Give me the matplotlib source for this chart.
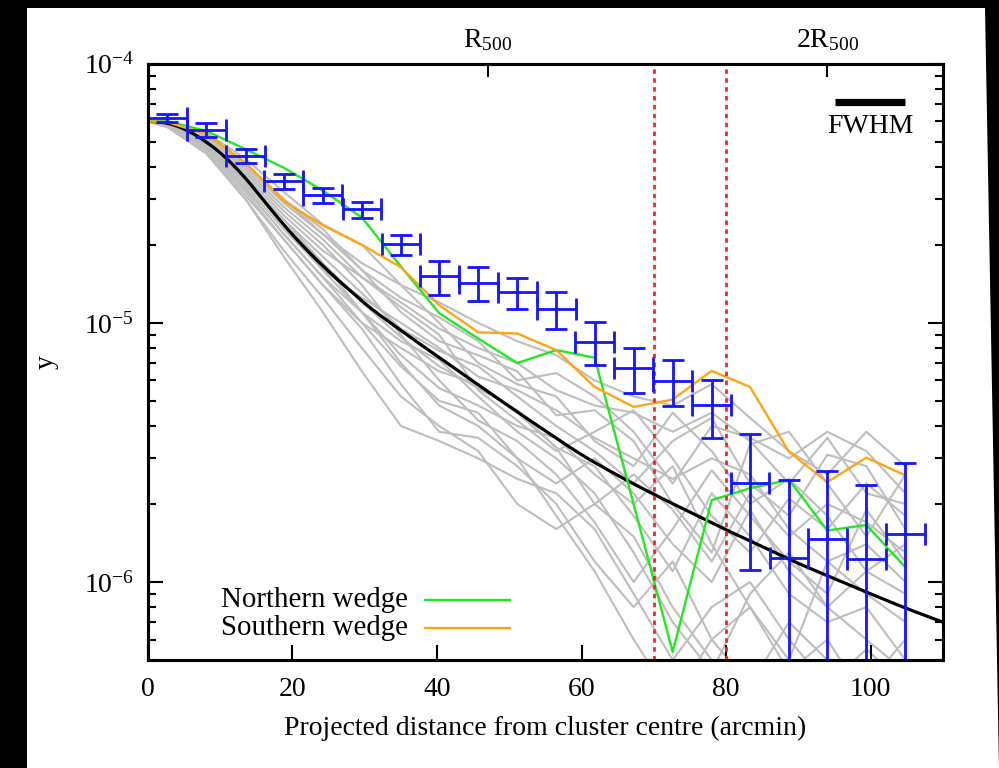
import numpy as np
import matplotlib
matplotlib.use('Agg')
import matplotlib.pyplot as plt
from matplotlib.patches import Polygon

plt.rcParams['font.family'] = ['Liberation Serif', 'DejaVu Serif']
plt.rcParams['mathtext.fontset'] = 'custom'
plt.rcParams['mathtext.rm'] = 'Liberation Serif'
plt.rcParams['mathtext.it'] = 'Liberation Serif:italic'
plt.rcParams['mathtext.bf'] = 'Liberation Serif:bold'

# radial bins (arcmin) used for the wedge / sector profiles
prof_x = [0, 2.7, 8.1, 13.5, 18.8, 24.2, 29.6, 35.0, 40.3, 45.7, 51.1,
          56.5, 61.8, 67.2, 72.6, 78.0, 83.3, 88.7, 94.0, 99.4, 104.8]

# measured profile (units of 1e-6)
data_x = prof_x[1:]
data_xerr = 2.68
data_y = [62, 55.5, 44.1, 35.2, 31.1, 27.4, 20.1, 15.1, 14.3, 13.1,
          11.3, 8.45, 6.67, 5.96, 4.81, 2.41, 1.24, 1.46, 1.23, 1.53]
data_yerr = [2.2, 3.5, 2.8, 2.2, 2.0, 2.0, 1.8, 2.3, 2.2, 1.8,
             1.8, 1.6, 1.3, 1.2, 1.2, 1.3, 1.23, 1.23, 1.13, 1.36]

# wedges (units of 1e-6)
north = [60, 60, 55, 46.8, 39.7, 32.4, 25.5, 16.5, 10.9, 8.7, 7.0,
         7.85, 7.34, 2.0, 0.537, 2.07, 2.3, 2.48, 1.58, 1.66, 1.14]
south = [60, 59.5, 53.5, 41.5, 29.5, 23.8, 20.0, 16.4, 11.7, 9.2, 9.1,
         7.85, 5.66, 4.74, 5.06, 6.53, 5.66, 3.18, 2.43, 3.02, 2.58]

# other sectors (units of 1e-6)
sectors = [
    [60, 59, 52, 40, 29, 22, 17, 14, 12, 10, 8.5, 7.5, 6.0, 5.2, 4.8, 5.8, 4.3, 3.2, 2.6, 3.8, 2.8],
    [60, 58, 50, 37, 26, 19, 15, 12, 9.5, 8.0, 7.0, 5.5, 4.8, 4.5, 3.8, 4.5, 3.5, 2.4, 3.6, 2.2, 2.0],
    [60, 58, 48, 34, 23, 16, 12.5, 10, 8.0, 6.2, 5.5, 4.6, 3.6, 3.0, 2.5, 3.0, 2.6, 1.6, 1.2, 1.4, 1.0],
    [60, 57, 47, 33, 22, 15, 10, 8.0, 6.5, 5.8, 4.5, 3.3, 2.8, 1.8, 1.1, 2.2, 1.5, 0.9, 0.7, 0.8, 0.5],
    [60, 57, 45, 30, 18, 11, 6.5, 4.0, 3.5, 3.0, 2.5, 2.2, 1.6, 0.9, 0.5, 0.8, 1.0, 0.6, 0.4, 0.55, 0.4],
    [60, 58, 49, 35, 24, 17, 11, 8.5, 7.2, 5.2, 3.8, 3.0, 2.2, 1.3, 0.7, 0.45, 0.9, 1.3, 0.8, 0.6, 0.45],
    [60, 59, 51, 38, 27, 20, 14, 9.0, 6.0, 4.2, 3.5, 2.6, 1.7, 1.0, 1.6, 2.7, 1.8, 1.2, 0.9, 1.9, 1.2],
    [60, 58, 47, 32, 21, 14, 9.5, 5.8, 3.8, 3.6, 2.8, 2.0, 1.2, 0.8, 1.2, 0.6, 0.4, 0.7, 0.5, 0.4, 0.6],
    [60, 59, 53, 41, 30, 23, 16, 11, 8.5, 7.5, 6.5, 4.4, 4.6, 3.5, 2.0, 1.3, 3.4, 3.8, 2.4, 1.5, 2.6],
    [60, 58, 50, 36, 25, 18, 13, 9.5, 7.8, 6.8, 5.2, 4.0, 3.2, 2.4, 3.5, 4.3, 2.4, 1.8, 3.1, 2.8, 1.6],
    [60, 57, 45, 30, 19, 12.5, 8.0, 5.2, 4.0, 3.2, 2.0, 1.6, 2.0, 1.5, 0.8, 0.5, 0.3, 0.5, 1.2, 0.9, 0.7],
    [60, 59, 54, 43, 32, 24, 20, 14, 10, 7.0, 5.8, 5.2, 3.5, 2.8, 4.5, 3.2, 2.0, 2.5, 1.8, 1.1, 1.4],
    [60, 58, 49, 35, 24, 16, 11, 7.5, 5.6, 4.8, 4.0, 3.6, 2.6, 2.0, 2.8, 1.4, 0.8, 0.45, 0.6, 0.35, 0.3],
    [60, 59, 52, 39, 28, 21, 15, 11.5, 9.0, 5.5, 4.2, 3.2, 3.8, 4.6, 3.0, 1.8, 1.3, 2.1, 1.6, 2.4, 1.8],
    [60, 58, 48, 33, 22, 15, 11, 7.0, 4.8, 4.0, 3.0, 2.4, 3.0, 2.2, 1.4, 1.0, 1.9, 1.1, 0.8, 1.1, 0.9],
    [60, 57, 46, 31, 21, 14, 10, 6.8, 5.0, 4.5, 3.0, 1.8, 1.1, 0.6, 0.35, 0.6, 0.8, 0.5, 0.3, 0.5, 0.3],
    [60, 59, 53, 41, 30, 22, 16, 12.5, 10.5, 8.5, 6.0, 6.4, 5.2, 3.8, 2.4, 4.0, 3.6, 3.0, 3.8, 3.2, 2.2],
    [60, 58, 50, 36, 25, 17, 12, 8.8, 6.8, 5.6, 4.6, 3.3, 2.0, 2.6, 1.9, 1.2, 2.2, 1.5, 2.0, 1.7, 1.3],
]

# model profile (units of 1e-6)
model_x = [0, 2, 4, 6, 8, 10, 12, 14, 16, 18, 20, 22, 24, 26, 28, 30, 35,
           40, 45, 50, 55, 60, 65, 70, 75, 80, 85, 90, 95, 100, 105, 110]
model_y = [60, 59.4, 57.5, 54.2, 50.0, 45.3, 40.1, 34.8, 29.7, 25.4, 21.9,
           19.1, 16.8, 14.9, 13.3, 11.9, 9.35, 7.45, 5.95, 4.76, 3.83, 3.1,
           2.58, 2.18, 1.86, 1.59, 1.37, 1.18, 1.03, 0.9, 0.79, 0.70]

r500 = 47.0
region_lines = [70, 80]
fwhm = [95.1, 104.7]

scale = 1e-6
fs = 20


def smooth_log(xs, ys, n=12):
    """Hermite curve through the read points, done in log space"""
    xs = np.asarray(xs, float)
    ly = np.log10(ys)
    m = np.gradient(ly, xs)
    out_x, out_y = [], []
    for i in range(len(xs) - 1):
        h = xs[i + 1] - xs[i]
        t = np.linspace(0, 1, n, endpoint=False)
        h00 = 2 * t**3 - 3 * t**2 + 1
        h10 = t**3 - 2 * t**2 + t
        h01 = -2 * t**3 + 3 * t**2
        h11 = t**3 - t**2
        out_x.extend(xs[i] + t * h)
        out_y.extend(h00 * ly[i] + h10 * h * m[i] + h01 * ly[i + 1] + h11 * h * m[i + 1])
    out_x.append(xs[-1])
    out_y.append(ly[-1])
    return np.array(out_x), 10 ** np.array(out_y)


fig = plt.figure(figsize=(9.99, 7.68), dpi=100, facecolor='black')
page = Polygon([(27 / 999, 1 - 8 / 768), (985 / 999, 1 - 8 / 768), (1, 0), (27 / 999, 0)],
               closed=True, transform=fig.transFigure, facecolor='white',
               edgecolor='none', zorder=-10)
fig.patches.append(page)

ax = fig.add_axes([0.1481, 0.1406, 0.7958, 0.7764])
ax.set_facecolor('white')

for s in sectors:
    ax.plot(prof_x, np.array(s) * scale, color='#bebebe', lw=1.5, zorder=1)

mx, my = smooth_log(model_x, np.array(model_y) * scale)
ax.plot(mx, my, color='black', lw=2.3, zorder=2)
ax.plot(prof_x, np.array(north) * scale, color='#22e822', lw=1.7, zorder=3)
ax.plot(prof_x, np.array(south) * scale, color='#ffa515', lw=1.7, zorder=3)

for xv in region_lines:
    ax.axvline(xv, color='#ff2020', lw=2.0, linestyle=(0, (1.6, 1.6)), zorder=4)

ax.errorbar(data_x, np.array(data_y) * scale, xerr=data_xerr,
            yerr=np.array(data_yerr) * scale, fmt='none', ecolor='#1414ff',
            elinewidth=2.0, capsize=8, capthick=2.0, zorder=5)

# FWHM bar
ax.plot(fwhm, [7.1e-5, 7.1e-5], color='black', lw=5.2, solid_capstyle='butt', zorder=6)
ax.text(np.mean(fwhm), 5.75e-5, 'FWHM', ha='center', va='center', fontsize=fs)

# legend drawn gnuplot-style
ax.text(0.327, 0.1006, 'Northern wedge', transform=ax.transAxes, ha='right',
        va='center', fontsize=20.8)
ax.text(0.327, 0.0537, 'Southern wedge', transform=ax.transAxes, ha='right',
        va='center', fontsize=20.8)
ax.plot([0.348, 0.455], [0.1006, 0.1006], transform=ax.transAxes, color='#22e822', lw=1.7)
ax.plot([0.348, 0.455], [0.0537, 0.0537], transform=ax.transAxes, color='#ffa515', lw=1.7)

ax.set_yscale('log')
ax.set_xlim(0, 110)
ax.set_ylim(5e-7, 1e-4)
ax.set_xticks([0, 20, 40, 60, 80, 100])
ax.set_yticks([1e-6, 1e-5, 1e-4])
ax.set_yticklabels([r'$10^{-6}$', r'$10^{-5}$', r'$10^{-4}$'])
ax.yaxis.set_ticks_position('both')
ax.xaxis.set_ticks_position('bottom')
ax.tick_params(axis='both', which='major', direction='in', length=11, width=1.5,
               labelsize=fs, colors='black')
ax.tick_params(axis='x', pad=12)
ax.tick_params(axis='y', pad=10)
ax.tick_params(axis='y', which='minor', direction='in', length=6, width=1.5)
for sp in ax.spines.values():
    sp.set_linewidth(2.2)

ax.set_xlabel('Projected distance from cluster centre (arcmin)', fontsize=fs, labelpad=10)
ax.set_ylabel('y', fontsize=fs, labelpad=18)

ax2 = ax.twiny()
ax2.set_xlim(0, 110)
ax2.set_xticks([r500, 2 * r500])
ax2.set_xticklabels([r'R$_{500}$', r'2R$_{500}$'])
ax2.tick_params(axis='x', direction='in', length=9, width=1.5, labelsize=fs, pad=8)
for sp in ax2.spines.values():
    sp.set_linewidth(2.2)

fig.savefig('out.png', dpi=100, facecolor=fig.get_facecolor())
